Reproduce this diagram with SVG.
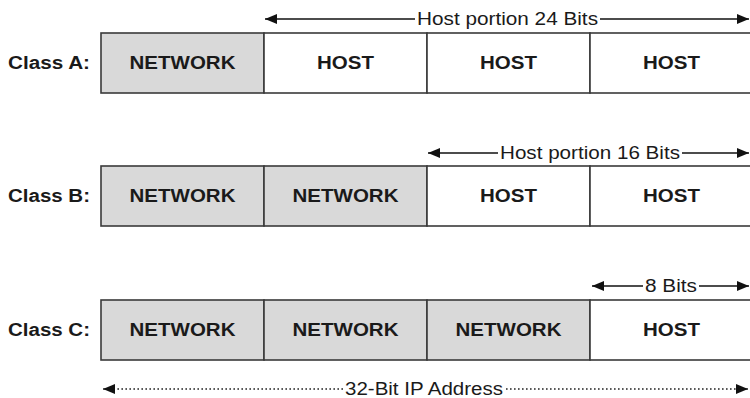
<svg xmlns="http://www.w3.org/2000/svg" width="750" height="398" viewBox="0 0 750 398">
<defs>
<marker id="ah" viewBox="0 0 12 10" refX="12" refY="5" markerWidth="13" markerHeight="10" markerUnits="userSpaceOnUse" orient="auto-start-reverse"><path d="M0,0 L12,5 L0,10 z" fill="#111"/></marker>
<style>
text{font-family:"Liberation Sans",Arial,sans-serif;font-size:18px;fill:#1a1a1a}
.b{font-weight:bold}
.lab{font-weight:bold}
.net{fill:#d9d9d9;stroke:#3a3a3a;stroke-width:1.6}
.host{fill:#fff;stroke:#3a3a3a;stroke-width:1.6}
.c{text-anchor:middle}
.ln{stroke:#111;stroke-width:1.3;fill:none}
.dot{stroke:#222;stroke-width:1.6;fill:none;stroke-dasharray:1.6 2.4}
</style>
</defs>
<rect width="750" height="398" fill="#fff"/>
<g id="rowA">
<text class="lab" x="8" y="69" textLength="82" lengthAdjust="spacingAndGlyphs">Class A:</text>
<g id="A1"><rect class="net" x="101" y="33" width="163" height="60"/><text class="b c" x="182.5" y="69" textLength="106" lengthAdjust="spacingAndGlyphs">NETWORK</text></g>
<g id="A2"><rect class="host" x="264" y="33" width="163" height="60"/><text class="b c" x="345.5" y="69" textLength="57" lengthAdjust="spacingAndGlyphs">HOST</text></g>
<g id="A3"><rect class="host" x="427" y="33" width="163" height="60"/><text class="b c" x="508.5" y="69" textLength="57" lengthAdjust="spacingAndGlyphs">HOST</text></g>
<g id="A4"><rect class="host" x="590" y="33" width="163" height="60"/><text class="b c" x="671.5" y="69" textLength="57" lengthAdjust="spacingAndGlyphs">HOST</text></g>
</g>
<g id="rowB">
<text class="lab" x="8" y="202" textLength="82" lengthAdjust="spacingAndGlyphs">Class B:</text>
<g id="B1"><rect class="net" x="101" y="166" width="163" height="60"/><text class="b c" x="182.5" y="202" textLength="106" lengthAdjust="spacingAndGlyphs">NETWORK</text></g>
<g id="B2"><rect class="net" x="264" y="166" width="163" height="60"/><text class="b c" x="345.5" y="202" textLength="106" lengthAdjust="spacingAndGlyphs">NETWORK</text></g>
<g id="B3"><rect class="host" x="427" y="166" width="163" height="60"/><text class="b c" x="508.5" y="202" textLength="57" lengthAdjust="spacingAndGlyphs">HOST</text></g>
<g id="B4"><rect class="host" x="590" y="166" width="163" height="60"/><text class="b c" x="671.5" y="202" textLength="57" lengthAdjust="spacingAndGlyphs">HOST</text></g>
</g>
<g id="rowC">
<text class="lab" x="8" y="336" textLength="82" lengthAdjust="spacingAndGlyphs">Class C:</text>
<g id="C1"><rect class="net" x="101" y="300" width="163" height="60"/><text class="b c" x="182.5" y="336" textLength="106" lengthAdjust="spacingAndGlyphs">NETWORK</text></g>
<g id="C2"><rect class="net" x="264" y="300" width="163" height="60"/><text class="b c" x="345.5" y="336" textLength="106" lengthAdjust="spacingAndGlyphs">NETWORK</text></g>
<g id="C3"><rect class="net" x="427" y="300" width="163" height="60"/><text class="b c" x="508.5" y="336" textLength="106" lengthAdjust="spacingAndGlyphs">NETWORK</text></g>
<g id="C4"><rect class="host" x="590" y="300" width="163" height="60"/><text class="b c" x="671.5" y="336" textLength="57" lengthAdjust="spacingAndGlyphs">HOST</text></g>
</g>
<g id="connectors">
<path class="ln" d="M415,19 H265" marker-end="url(#ah)"/>
<path class="ln" d="M600,19 H749" marker-end="url(#ah)"/>
<text class="c" x="507.5" y="25" textLength="181" lengthAdjust="spacingAndGlyphs">Host portion 24 Bits</text>
<path class="ln" d="M498,153 H428" marker-end="url(#ah)"/>
<path class="ln" d="M682,153 H749" marker-end="url(#ah)"/>
<text class="c" x="590" y="159" textLength="180" lengthAdjust="spacingAndGlyphs">Host portion 16 Bits</text>
<path class="ln" d="M643,286 H592" marker-end="url(#ah)"/>
<path class="ln" d="M699,286 H749" marker-end="url(#ah)"/>
<text class="c" x="671" y="292" textLength="52" lengthAdjust="spacingAndGlyphs">8 Bits</text>
<path class="dot" d="M343,389 H114"/>
<path class="ln" d="M115,389 H103" marker-end="url(#ah)" stroke-width="0.5"/>
<path class="dot" d="M506,389 H736"/>
<path class="ln" d="M736,389 H748" marker-end="url(#ah)" stroke-width="0.5"/>
<text class="c" x="424" y="395" textLength="158" lengthAdjust="spacingAndGlyphs">32-Bit IP Address</text>
</g>
</svg>
